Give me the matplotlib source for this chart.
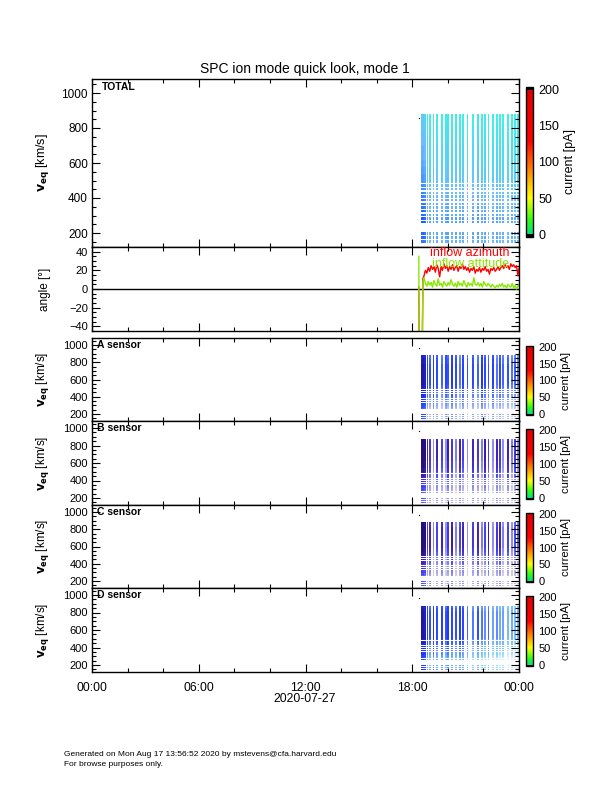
import numpy as np
import matplotlib
matplotlib.use('Agg')
import matplotlib.pyplot as plt
from matplotlib.colors import LinearSegmentedColormap, Normalize
from matplotlib.ticker import MultipleLocator
import matplotlib.cm as cm

plt.rcParams['font.family'] = ['Liberation Sans', 'DejaVu Sans']

# ---- data read off the quick look ----
# centre time (hours, 2020-07-27) of each ion spectrum column
scan_times = [18.55, 18.64, 18.73,
              18.86, 19.00, 19.19, 19.41, 19.66, 19.88, 20.03, 20.22, 20.46, 20.69,
              20.87, 21.10, 21.43, 21.71, 21.91, 22.09, 22.28, 22.56, 22.75, 22.93,
              23.12, 23.40, 23.59, 23.78, 23.95]
scan_width = 0.1

# velocity bins (km/s)
v_lo = [145, 166, 187, 255, 276, 297, 318, 339, 360, 381, 402, 423, 444, 465, 486,
        500, 540, 580, 620, 660, 700, 740, 780, 820, 850]
v_hi = [160, 181, 204, 269, 290, 311, 332, 353, 374, 395, 416, 437, 458, 479, 500,
        540, 580, 620, 660, 700, 740, 780, 820, 850, 880]

# relative colour level per column / per velocity bin, one set per panel
total_cols = [-0.3, -0.3, -0.25,
              0.0, 0.05, -0.05, 0.0, 0.05, 0.0, -0.05, 0.05, 0.0, 0.05,
              0.0, 0.05, 0.0, -0.05, 0.05, 0.0, 0.1, 0.05, 0.0, 0.1,
              0.05, 0.1, 0.05, 0.1, 0.1]
total_rows = [0.45, 0.4, 0.4, 0.35, 0.35, 0.4, 0.4, 0.45, 0.45, 0.45, 0.5, 0.5, 0.55, 0.55, 0.6,
              0.6, 0.65, 0.7, 0.75, 0.75, 0.8, 0.85, 0.9, 0.95, 0.95]

a_cols = [-0.3, -0.3, -0.25,
          0.0, 0.1, -0.05, 0.05, 0.15, 0.0, 0.1, -0.05, 0.05, 0.2,
          0.0, 0.1, 0.05, 0.15, -0.05, 0.05, 0.1, 0.0, 0.2, 0.05,
          0.15, 0.1, 0.2, 0.15, 0.25]
a_rows = [0.7, 0.7, 0.65, 0.75, 0.7, 0.65, 0.6, 0.6, 0.55, 0.5, 0.5, 0.45, 0.45, 0.4, 0.4,
          0.35, 0.3, 0.3, 0.3, 0.3, 0.3, 0.3, 0.35, 0.35, 0.4]

b_cols = [-0.35, -0.35, -0.3,
          -0.1, 0.0, 0.3, -0.1, 0.05, 0.3, -0.15, 0.0, 0.25, -0.1,
          0.05, 0.3, -0.1, 0.0, 0.25, -0.15, 0.05, 0.3, -0.1, 0.0,
          0.3, -0.1, 0.25, 0.0, 0.3]
b_rows = [0.8, 0.8, 0.75, 0.8, 0.75, 0.75, 0.7, 0.7, 0.65, 0.6, 0.6, 0.55, 0.5, 0.5, 0.45,
          0.4, 0.35, 0.35, 0.3, 0.3, 0.3, 0.3, 0.3, 0.3, 0.35]

c_cols = [-0.35, -0.35, -0.3,
          0.0, -0.1, 0.25, 0.05, -0.1, 0.3, 0.0, -0.15, 0.25, 0.05,
          -0.1, 0.3, 0.0, -0.1, 0.25, 0.05, -0.15, 0.3, 0.0, -0.1,
          0.25, 0.05, 0.3, 0.1, 0.2]
c_rows = [0.8, 0.75, 0.75, 0.8, 0.75, 0.7, 0.7, 0.65, 0.65, 0.6, 0.55, 0.55, 0.5, 0.5, 0.45,
          0.4, 0.35, 0.3, 0.3, 0.3, 0.3, 0.3, 0.3, 0.35, 0.35]

d_cols = [-0.3, -0.3, -0.25,
          0.0, 0.1, -0.05, 0.05, 0.0, 0.1, -0.05, 0.05, 0.1, 0.0,
          0.05, 0.15, 0.2, 0.1, 0.2, 0.25, 0.15, 0.3, 0.25, 0.35,
          0.3, 0.4, 0.35, 0.45, 0.4]
d_rows = [0.55, 0.6, 0.6, 0.7, 0.65, 0.6, 0.55, 0.55, 0.5, 0.45, 0.45, 0.4, 0.4, 0.35, 0.35,
          0.3, 0.3, 0.3, 0.3, 0.3, 0.3, 0.3, 0.3, 0.35, 0.4]

total_colors = ['#1850ff', '#4090ff', '#70b8ff', '#50d8f0', '#40f0e8']
a_colors = ['#2018a0', '#2030f0', '#3050ff', '#7090ff', '#b0c0ff', '#e0e4ff']
bc_colors = ['#241278', '#4424b8', '#4a4af8', '#8c8cf8', '#b8b0e8', '#d0d0d8']
d_colors = ['#2018a0', '#2030f0', '#3050ff', '#70a0ff', '#80d0f8', '#e0f0ff']

# stray single samples before the main data
stray_t = [18.38]
stray_v_total = [855]
stray_v_sensor = [965]

# flow angles (deg)
ang_t = [18.37, 18.38, 18.40, 18.57, 18.60,
         18.66, 18.74, 18.82, 18.90, 18.98, 19.06, 19.14, 19.22, 19.30, 19.38, 19.46,
         19.54, 19.62, 19.70, 19.78, 19.86, 19.94, 20.02, 20.10, 20.18, 20.26, 20.34,
         20.42, 20.50, 20.58, 20.66, 20.74, 20.82, 20.90, 20.98, 21.06, 21.14, 21.22,
         21.30, 21.38, 21.46, 21.54, 21.62, 21.70, 21.78, 21.86, 21.94, 22.02, 22.10,
         22.18, 22.26, 22.34, 22.42, 22.50, 22.58, 22.66, 22.74, 22.82, 22.90, 22.98,
         23.06, 23.14, 23.22, 23.30, 23.38, 23.46, 23.54, 23.62, 23.70, 23.78, 23.86,
         23.94, 24.00]
azimuth = [2, -50, -50, -50, 11,
           14, 20, 17, 23, 19, 25, 21, 24, 18, 26, 22,
           13, 24, 20, 27, 22, 25, 19, 24, 21, 26, 20,
           23, 25, 19, 24, 22, 27, 21, 24, 20, 23, 18,
           22, 20, 24, 17, 21, 19, 23, 18, 22, 20, 24,
           19, 21, 16, 22, 20, 23, 19, 21, 24, 20, 23,
           25, 22, 26, 23, 25, 21, 27, 24, 26, 23, 25,
           14, 22]
altitude = [35, -50, -50, -50, 8,
            12, 6, 3, 8, 4, 7, 2, 9, 5, 3, 11,
            4, 6, 2, 8, 5, 3, 7, 4, 10, 5, 3,
            6, 2, 8, 4, 6, 3, 9, 5, 2, 7, 4,
            6, 3, 12, 5, 4, 7, 3, 6, 2, 8, 5,
            3, 6, 4, 2, 5, 3, 1, 4, 2, 5, 3,
            6, 2, 4, 1, 5, 3, 2, 6, 1, 4, 0,
            3, 5]

hour_ticks = [0, 6, 12, 18, 24]
hour_labels = ['00:00', '06:00', '12:00', '18:00', '00:00']
cbar_ticks = [0, 50, 100, 150, 200]

W, H = 612, 792


def box(x0, y0, x1, y1):
    # pixel box (top-left origin) -> figure fraction
    return [x0 / W, 1 - y1 / H, (x1 - x0) / W, (y1 - y0) / H]


def style_axis(ax, major, minor, fs):
    ax.set_xlim(0, 24)
    ax.set_xticks(hour_ticks)
    ax.xaxis.set_minor_locator(MultipleLocator(2))
    ax.yaxis.set_major_locator(MultipleLocator(major))
    ax.yaxis.set_minor_locator(MultipleLocator(minor))
    ax.tick_params(which='both', direction='in', top=True, right=True, width=0.8,
                   labelsize=fs, pad=3)
    ax.tick_params(which='major', length=6)
    ax.tick_params(which='minor', length=3)
    ax.tick_params(axis='x', labelbottom=False)
    for s in ax.spines.values():
        s.set_linewidth(1.0)


def draw_spec(ax, cols, rows, colors, stray_v):
    cmap = LinearSegmentedColormap.from_list('spc', colors)
    lo = np.array(v_lo)
    hi = np.array(v_hi)
    for j, t in enumerate(scan_times):
        vals = np.clip(cols[j] + np.array(rows), 0, 1)
        ax.bar([t] * len(lo), hi - lo, bottom=lo, width=scan_width,
               color=cmap(vals), linewidth=0, antialiased=False)
    ax.plot(stray_t * len(stray_v), stray_v, 's', color='black', ms=0.8, mew=0)
    ax.set_ylim(120, 1080)


cbar_cmap = LinearSegmentedColormap.from_list(
    'current', [(0.0, '#00e080'), (0.1, '#30ff10'), (0.25, '#ffff00'),
                (0.45, '#ff8000'), (0.65, '#ff0000'), (1.0, '#e00000')])
cbar_cmap.set_over('black')
cbar_cmap.set_under('black')


def add_cbar(fig, rect, fs):
    cax = fig.add_axes(rect)
    sm = cm.ScalarMappable(norm=Normalize(0, 200), cmap=cbar_cmap)
    cb = fig.colorbar(sm, cax=cax, extend='both', extendrect=True, extendfrac=0.02)
    cb.set_ticks(cbar_ticks)
    cb.ax.tick_params(length=0, labelsize=fs, pad=4)
    cb.outline.set_linewidth(1.0)
    cb.set_label('current [pA]', fontsize=fs, labelpad=3)
    return cb


fig = plt.figure(figsize=(W / 100, H / 100), dpi=100)

vlabel = r'$\mathbf{v_{eq}}$ [km/s]'

# TOTAL panel
ax0 = fig.add_axes(box(92, 79, 519, 247))
draw_spec(ax0, total_cols, total_rows, total_colors, stray_v_total)
style_axis(ax0, 200, 50, 8.5)
ax0.set_ylabel(vlabel, fontsize=9)
ax0.yaxis.set_label_coords(-0.095, 0.5)
ax0.text(0.023, 0.955, 'TOTAL', transform=ax0.transAxes, fontsize=7.5,
         fontweight='bold', va='center')
add_cbar(fig, box(526, 87, 533, 237), 9)

# angle panel
ax1 = fig.add_axes(box(92, 247, 519, 331))
ax1.axhline(0, color='black', lw=1.0)
ax1.plot(ang_t, azimuth, color='#ff0000', lw=1.0)
ax1.plot(ang_t, altitude, color='#88e800', lw=1.0)
ax1.set_ylim(-45, 45)
style_axis(ax1, 20, 5, 8)
ax1.set_ylabel('angle [°]', fontsize=8.5)
ax1.yaxis.set_label_coords(-0.095, 0.5)
ax1.text(0.977, 0.93, 'inflow azimuth', color='#ff0000', transform=ax1.transAxes,
         fontsize=9, ha='right', va='center')
ax1.text(0.977, 0.80, 'inflow attitude', color='#88e800', transform=ax1.transAxes,
         fontsize=9, ha='right', va='center')

# sensor panels
sensors = [('A sensor', a_cols, a_rows, a_colors, 338, 421),
           ('B sensor', b_cols, b_rows, bc_colors, 421, 505),
           ('C sensor', c_cols, c_rows, bc_colors, 505, 588),
           ('D sensor', d_cols, d_rows, d_colors, 588, 672)]
for name, cols, rows, colors, y0, y1 in sensors:
    ax = fig.add_axes(box(92, y0, 519, y1))
    draw_spec(ax, cols, rows, colors, stray_v_sensor)
    style_axis(ax, 200, 50, 8)
    ax.set_ylabel(vlabel, fontsize=8.5)
    ax.yaxis.set_label_coords(-0.095, 0.5)
    ax.text(0.012, 0.915, name, transform=ax.transAxes, fontsize=7.5,
            fontweight='bold', va='center')
    add_cbar(fig, box(526, y0 + 8, 533, y1 - 6), 8)

ax.tick_params(axis='x', labelbottom=True, labelsize=8.8, pad=7)
ax.set_xticklabels(hour_labels)

fig.text(305 / W, 1 - 69 / H, 'SPC ion mode quick look, mode 1', ha='center',
         va='center', fontsize=10)
fig.text(305 / W, 1 - 699 / H, '2020-07-27', ha='center', va='center', fontsize=8.8)
fig.text(64 / W, 1 - 755 / H, 'Generated on Mon Aug 17 13:56:52 2020 by mstevens@cfa.harvard.edu',
         fontsize=6, va='center')
fig.text(64 / W, 1 - 764 / H, 'For browse purposes only.', fontsize=6, va='center')

fig.savefig('out.png', dpi=100)
